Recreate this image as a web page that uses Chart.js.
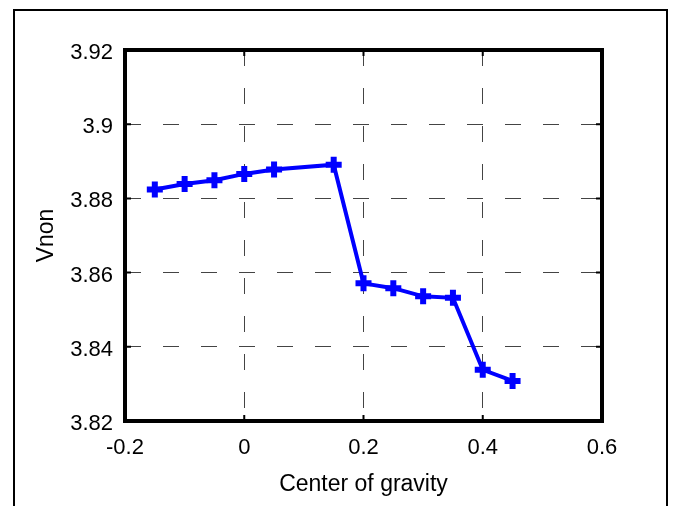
<!DOCTYPE html>
<html>
<head>
<meta charset="utf-8">
<script src="https://cdn.jsdelivr.net/npm/chart.js@4.4.0/dist/chart.umd.min.js"></script>
<style>
  html, body { margin: 0; padding: 0; background: #fff; }
  #wrap { position: relative; width: 674px; height: 506px; overflow: hidden; }
  #frame { position: absolute; left: 13px; top: 9px; width: 651px; height: 520px; border: 2px solid #000; }
  canvas { position: absolute; left: 0; top: 0; }
</style>
</head>
<body>
<div id="wrap">
  <div id="frame"></div>
  <canvas id="myChart" width="674" height="506"></canvas>
</div>
<script>
// center of gravity vs Vnon
var cog = [-0.15, -0.1, -0.05, 0, 0.05, 0.15, 0.2, 0.25, 0.3, 0.35, 0.4, 0.45];
var vnon = [3.8824, 3.8839, 3.8849, 3.8866, 3.8878, 3.8891, 3.8571, 3.8558, 3.8536, 3.8532, 3.8338, 3.8308];
var xTickLabels = ['-0.2', '0', '0.2', '0.4', '0.6'];
var yTickLabels = ['3.82', '3.84', '3.86', '3.88', '3.9', '3.92'];

var points = cog.map(function(x, i) {
    return { x: x, y: vnon[i] };
});

// black box round the plot + inward tick marks on all four sides
var boxPlugin = {
    id: 'box',
    afterDraw: function(chart) {
        var ctx = chart.ctx;
        var a = chart.chartArea;
        var xs = chart.scales.x, ys = chart.scales.y;
        ctx.save();
        ctx.strokeStyle = '#000';
        ctx.lineWidth = 2;
        xs.ticks.forEach(function(t) {
            var px = xs.getPixelForValue(t.value);
            ctx.beginPath();
            ctx.moveTo(px, a.bottom); ctx.lineTo(px, a.bottom - 6);
            ctx.moveTo(px, a.top); ctx.lineTo(px, a.top + 6);
            ctx.stroke();
        });
        ys.ticks.forEach(function(t) {
            var py = ys.getPixelForValue(t.value);
            ctx.beginPath();
            ctx.moveTo(a.left, py); ctx.lineTo(a.left + 6, py);
            ctx.moveTo(a.right, py); ctx.lineTo(a.right - 6, py);
            ctx.stroke();
        });
        ctx.lineWidth = 4;
        ctx.strokeRect(a.left, a.top, a.right - a.left, a.bottom - a.top);
        ctx.restore();
    }
};

var ctx = document.getElementById('myChart').getContext('2d');
var myChart = new Chart(ctx, {
    type: 'line',
    data: {
        datasets: [{
            data: points,
            borderColor: '#0000ff',
            backgroundColor: '#0000ff',
            borderWidth: 4,
            pointStyle: 'cross',
            pointRadius: 8,
            pointBorderWidth: 6,
            pointBorderColor: '#0000ff',
            tension: 0,
            fill: false
        }]
    },
    options: {
        responsive: false,
        animation: false,
        devicePixelRatio: 1,
        layout: { padding: { left: 0, top: 50, right: 72, bottom: 0 } },
        plugins: {
            legend: { display: false },
            tooltip: { enabled: false }
        },
        scales: {
            x: {
                type: 'linear',
                min: -0.2,
                max: 0.6,
                afterFit: function(scale) { scale.height = 85; },
                ticks: {
                    stepSize: 0.2,
                    padding: 14,
                    color: '#000',
                    font: { family: 'Liberation Sans', size: 22 },
                    callback: function(value, index) { return xTickLabels[index]; }
                },
                grid: { color: '#444', lineWidth: 1, drawTicks: false },
                border: { display: false, dash: [16, 22] },
                title: {
                    display: true,
                    text: 'Center of gravity',
                    color: '#000',
                    font: { family: 'Liberation Sans', size: 23 },
                    padding: { top: 0, bottom: 8 }
                }
            },
            y: {
                min: 3.82,
                max: 3.92,
                afterFit: function(scale) { scale.width = 125; },
                ticks: {
                    stepSize: 0.02,
                    padding: 12,
                    labelOffset: 3,
                    color: '#000',
                    font: { family: 'Liberation Sans', size: 22 },
                    callback: function(value, index) { return yTickLabels[index]; }
                },
                grid: { color: '#444', lineWidth: 1, drawTicks: false },
                border: { display: false, dash: [16, 22] },
                title: {
                    display: true,
                    text: 'Vnon',
                    color: '#000',
                    font: { family: 'Liberation Sans', size: 23 },
                    padding: { top: 33, bottom: 0 }
                }
            }
        }
    },
    plugins: [boxPlugin]
});
</script>
</body>
</html>
